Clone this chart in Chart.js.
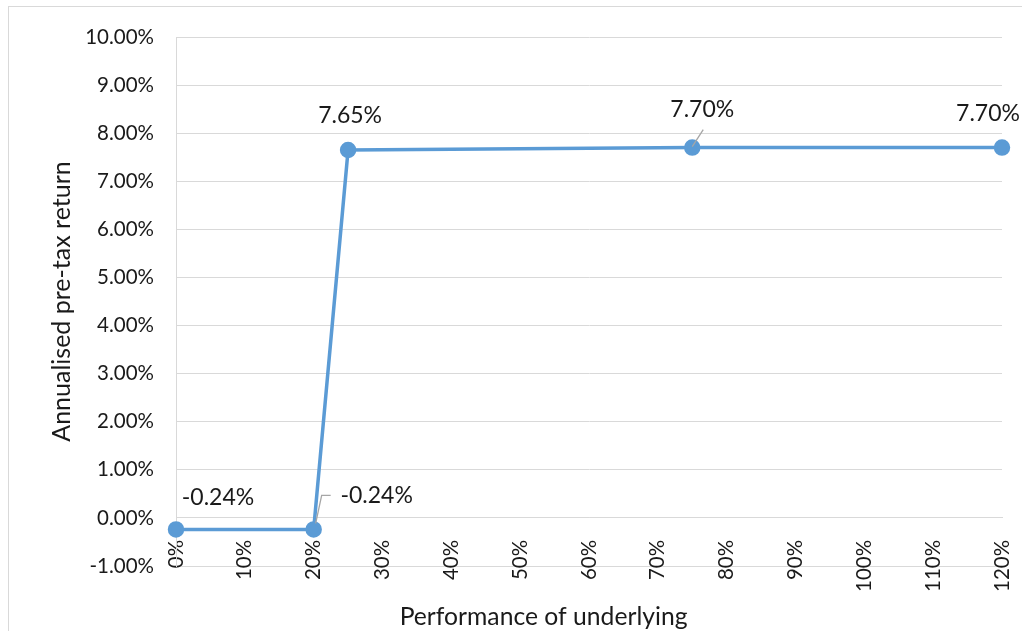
<!DOCTYPE html>
<html>
<head>
<meta charset="utf-8">
<script src="https://cdn.jsdelivr.net/npm/chart.js@4/dist/chart.umd.min.js"></script>
<style>
  html, body { margin: 0; padding: 0; background: #ffffff; }
  canvas { display: block; }
</style>
</head>
<body>
<canvas id="chart" width="1022" height="631"></canvas>
<script>
// Underlying performance (%) and the resulting annualised pre-tax return (%)
const performance = [0, 20, 25, 75, 120];
const annualReturn = [-0.24, -0.24, 7.65, 7.70, 7.70];

// Axis ranges and tick steps
const xTicks = { min: 0, max: 120, step: 10 };
const yTicks = { min: -1, max: 10, step: 1 };

// Label placement relative to each point: [dx, dy], plus optional leader polyline
const labelOffsets = [[42, -32], [63, -34], [2, -34], [10, -38], [-14, -34]];
const leaderLines = [null, [[2, -6], [8, -34], [17, -34]], null, [[0, -1], [11, -18]], null];

const FONT = 'Lato, "Open Sans", sans-serif';
const LINE_BLUE = '#5b9bd5';
const GRID = '#d9d9d9';

const frame = {
  id: 'frame',
  beforeDraw(chart) {
    const ctx = chart.ctx;
    ctx.save();
    ctx.strokeStyle = GRID;
    ctx.lineWidth = 1;
    ctx.strokeRect(8.5, 6.5, chart.width + 20, chart.height + 20);
    ctx.restore();
  }
};

const valueLabels = {
  id: 'valueLabels',
  afterDatasetsDraw(chart) {
    const ctx = chart.ctx;
    const meta = chart.getDatasetMeta(0);
    ctx.save();
    meta.data.forEach((pt, i) => {
      const lead = leaderLines[i];
      if (lead) {
        ctx.strokeStyle = '#a6a6a6';
        ctx.lineWidth = 1.3;
        ctx.beginPath();
        lead.forEach(([lx, ly], k) => {
          if (k === 0) ctx.moveTo(pt.x + lx, pt.y + ly);
          else ctx.lineTo(pt.x + lx, pt.y + ly);
        });
        ctx.stroke();
      }
      const [dx, dy] = labelOffsets[i];
      ctx.fillStyle = '#1a1a1a';
      ctx.font = '23px ' + FONT;
      ctx.textAlign = 'center';
      ctx.textBaseline = 'middle';
      ctx.fillText(annualReturn[i].toFixed(2) + '%', pt.x + dx, pt.y + dy);
    });
    ctx.restore();
  }
};

const xTitle = {
  id: 'xTitle',
  afterDraw(chart) {
    const ctx = chart.ctx;
    const a = chart.chartArea;
    ctx.save();
    ctx.fillStyle = '#1a1a1a';
    ctx.font = '24.7px ' + FONT;
    ctx.textAlign = 'center';
    ctx.textBaseline = 'middle';
    ctx.fillText('Performance of underlying', a.left + a.width * 0.445, a.bottom + 51);
    ctx.restore();
  }
};

new Chart(document.getElementById('chart'), {
  type: 'line',
  data: {
    datasets: [{
      data: performance.map((x, i) => ({ x, y: annualReturn[i] })),
      borderColor: LINE_BLUE,
      backgroundColor: LINE_BLUE,
      borderWidth: 3.5,
      pointRadius: 6.5,
      pointHoverRadius: 6.5,
      pointBackgroundColor: LINE_BLUE,
      pointBorderColor: LINE_BLUE,
      tension: 0,
      clip: false
    }]
  },
  options: {
    responsive: false,
    animation: false,
    devicePixelRatio: 1,
    layout: { padding: { left: 8, top: 37, right: 20, bottom: 65 } },
    plugins: {
      legend: { display: false },
      tooltip: { enabled: false }
    },
    scales: {
      x: {
        type: 'linear',
        position: { y: 0 },
        min: xTicks.min,
        max: xTicks.max,
        afterFit(scale) { scale.paddingLeft = 0; scale.paddingRight = 0; },
        grid: { display: false },
        border: { display: true, color: GRID, width: 1 },
        ticks: {
          stepSize: xTicks.step,
          autoSkip: false,
          minRotation: 90,
          maxRotation: 90,
          padding: 14,
          color: '#1a1a1a',
          font: { family: FONT, size: 20.5 },
          callback: v => v + '%'
        }
      },
      y: {
        type: 'linear',
        min: yTicks.min,
        max: yTicks.max,
        afterFit(scale) { scale.width = 168; },
        grid: { color: GRID, lineWidth: 1, drawTicks: false },
        border: { display: true, color: GRID, width: 1 },
        ticks: {
          stepSize: yTicks.step,
          padding: 22,
          color: '#1a1a1a',
          font: { family: FONT, size: 20.5 },
          callback: v => v.toFixed(2) + '%'
        },
        title: {
          display: true,
          text: 'Annualised pre-tax return',
          color: '#1a1a1a',
          font: { family: FONT, size: 25 },
          padding: { top: 39, bottom: 0 }
        }
      }
    }
  },
  plugins: [frame, valueLabels, xTitle]
});
</script>
</body>
</html>
